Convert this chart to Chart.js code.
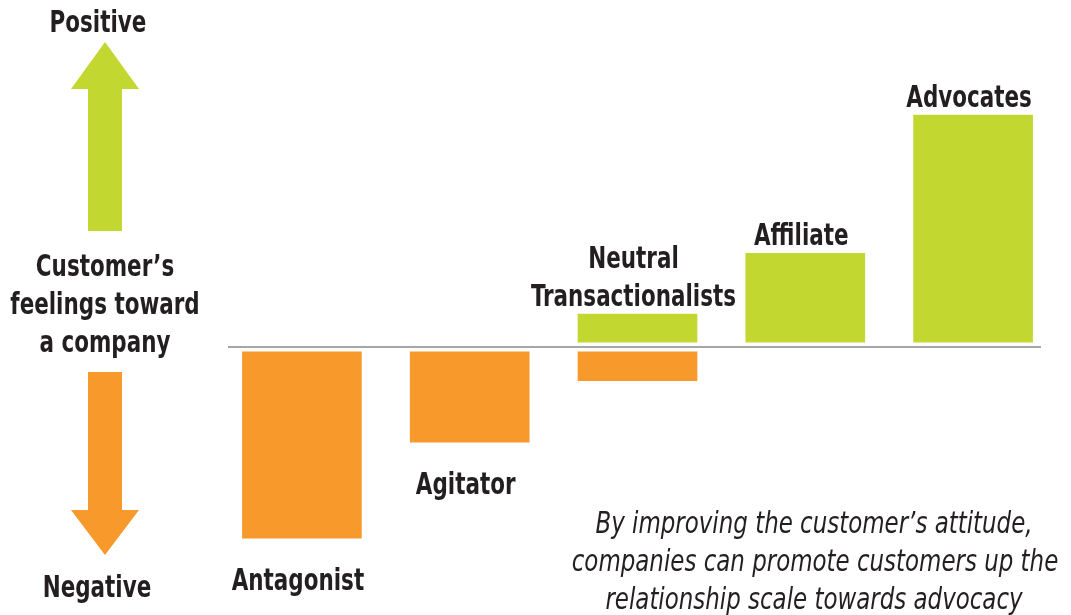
<!DOCTYPE html>
<html>
<head>
<meta charset="utf-8">
<script src="https://cdn.jsdelivr.net/npm/chart.js@4"></script>
<style>
	html, body { margin: 0; padding: 0; background: #ffffff; }
	#wrap { width: 1071px; height: 615px; }
</style>
</head>
<body>
<div id="wrap"><canvas id="scale"></canvas></div>
<script>
const categories = ['Antagonist', 'Agitator', ['Neutral', 'Transactionalists'], 'Affiliate', 'Advocates'];
const positiveValues = [null, null, 0.82, 2.34, 5.8];
const negativeValues = [-4.78, -2.38, -0.84, null, null];
const gap = 0.12;

const green = '#c2d72f';
const orange = '#f7992b';
const ink = '#231f20';
const boldFont = "bold 31px 'Liberation Sans Narrow', 'DejaVu Sans Condensed', sans-serif";
const italicFont = "italic 30px 'Liberation Sans Narrow', 'DejaVu Sans Condensed', sans-serif";

const floating = (vals, start) => vals.map(v => v === null ? null : [start, v]);

// no narrow font installed, so squeeze the condensed one a bit more
function narrowText(ctx, text, x, y, sx) {
	ctx.save();
	ctx.translate(x, y);
	ctx.scale(sx, 1);
	ctx.fillText(text, 0, 0);
	ctx.restore();
}

// labels, baseline, side arrows and note
const decor = {
	id: 'decor',
	afterDatasetsDraw(chart) {
		const ctx = chart.ctx;
		const y = chart.scales.y;
		const area = chart.chartArea;
		const zero = y.getPixelForValue(0);
		const sx = 0.77;

		ctx.save();
		ctx.strokeStyle = '#a6a6a6';
		ctx.lineWidth = 2;
		ctx.beginPath();
		ctx.moveTo(area.left + 10, zero);
		ctx.lineTo(area.right - 16, zero);
		ctx.stroke();

		ctx.fillStyle = ink;
		ctx.font = boldFont;
		ctx.textAlign = 'center';
		ctx.textBaseline = 'alphabetic';
		const bars = chart.getDatasetMeta(0).data;
		categories.forEach((cat, i) => {
			const lines = Array.isArray(cat) ? cat : [cat];
			const x = bars[i].x - 4;
			if (positiveValues[i] !== null) {
				const top = y.getPixelForValue(positiveValues[i]) - 8;
				lines.forEach((t, k) => narrowText(ctx, t, x, top - (lines.length - 1 - k) * 38, sx));
			} else {
				const bottom = y.getPixelForValue(negativeValues[i]) + 52;
				lines.forEach((t, k) => narrowText(ctx, t, x, bottom + k * 38, sx));
			}
		});

		// left side
		narrowText(ctx, 'Positive', 98, 32, sx);
		narrowText(ctx, 'Customer\u2019s', 105, 276, sx);
		narrowText(ctx, 'feelings toward', 105, 314, sx);
		narrowText(ctx, 'a company', 105, 352, sx);
		narrowText(ctx, 'Negative', 97, 597, sx);

		ctx.fillStyle = green;
		ctx.beginPath();
		ctx.moveTo(105, 42);
		ctx.lineTo(139, 89);
		ctx.lineTo(122, 89);
		ctx.lineTo(122, 231);
		ctx.lineTo(88, 231);
		ctx.lineTo(88, 89);
		ctx.lineTo(71, 89);
		ctx.closePath();
		ctx.fill();

		ctx.fillStyle = orange;
		ctx.beginPath();
		ctx.moveTo(88, 372);
		ctx.lineTo(122, 372);
		ctx.lineTo(122, 510);
		ctx.lineTo(139, 510);
		ctx.lineTo(105, 555);
		ctx.lineTo(71, 510);
		ctx.lineTo(88, 510);
		ctx.closePath();
		ctx.fill();

		ctx.fillStyle = ink;
		ctx.font = italicFont;
		narrowText(ctx, 'By improving the customer\u2019s attitude,', 814, 533, 0.85);
		narrowText(ctx, 'companies can promote customers up the', 815, 571, 0.85);
		narrowText(ctx, 'relationship scale towards advocacy', 814, 609, 0.85);
		ctx.restore();
	}
};

const scaleConfig = {
	type: 'bar',
	data: {
		labels: categories,
		datasets: [{
			label: 'Positive',
			data: floating(positiveValues, gap),
			backgroundColor: green,
			barThickness: 119,
			grouped: false,
		}, {
			label: 'Negative',
			data: floating(negativeValues, -gap),
			backgroundColor: orange,
			barThickness: 119,
			grouped: false,
		}]
	},
	options: {
		responsive: true,
		maintainAspectRatio: false,
		animation: false,
		layout: {
			padding: { top: 107, bottom: 28, left: 218, right: 14 }
		},
		scales: {
			x: { display: false },
			y: { display: false, min: -6, max: 6 }
		},
		plugins: {
			legend: { display: false },
			tooltip: { enabled: false }
		}
	},
	plugins: [decor]
};

const scaleCtx = document.getElementById('scale');
const scalePlot = new Chart(scaleCtx, scaleConfig);
</script>
</body>
</html>
